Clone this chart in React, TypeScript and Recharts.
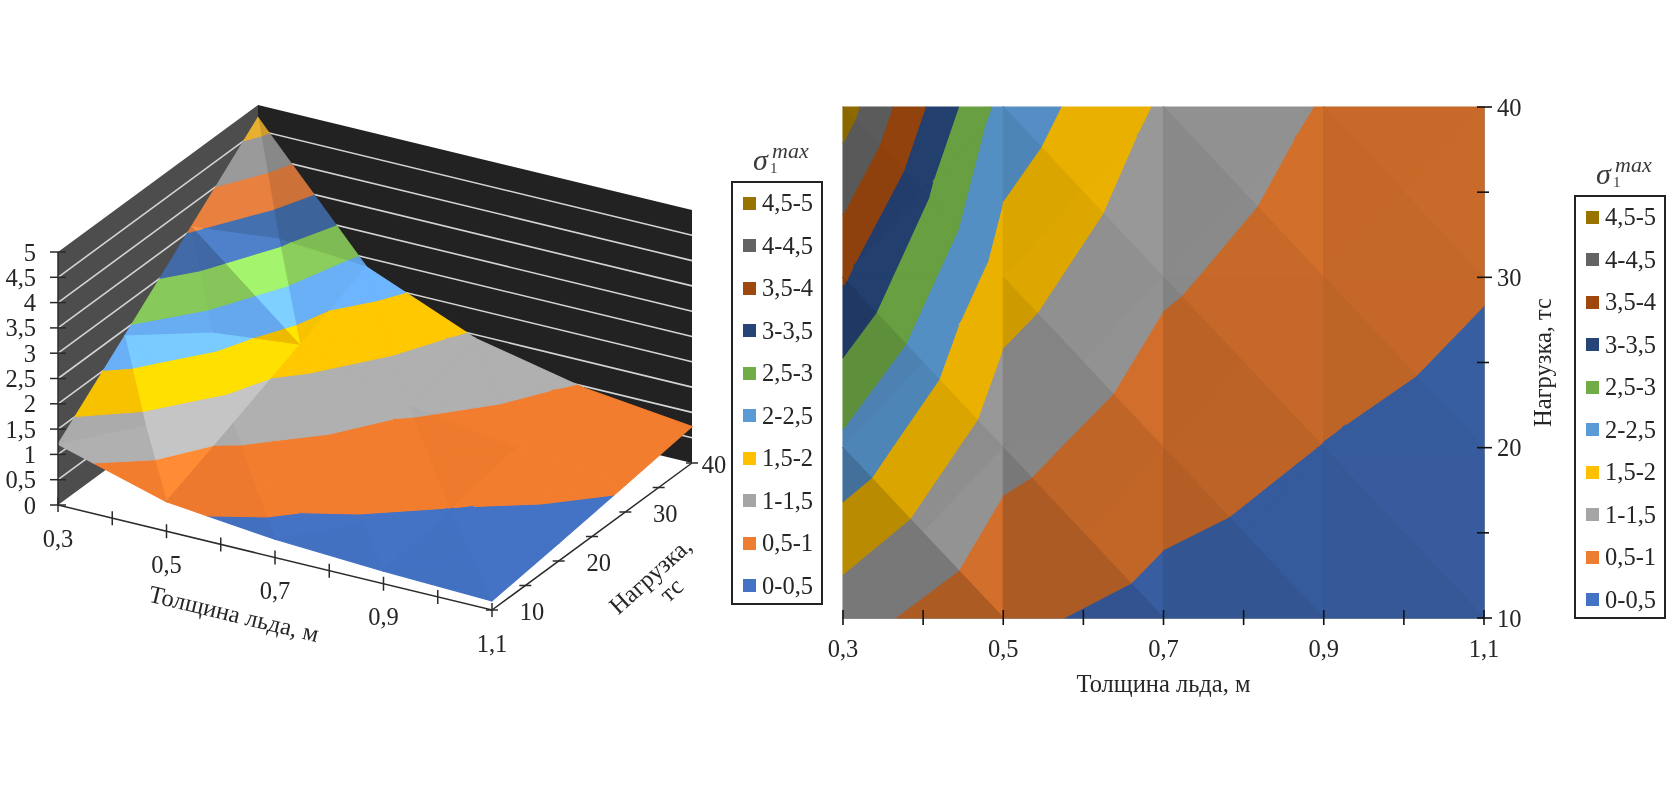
import React from "react";
import { ScatterChart, Scatter, XAxis, YAxis } from "recharts";

const thickness = [0.3, 0.5, 0.7, 0.9, 1.1];
const loads = [10, 20, 30, 40];
const sigmaAt10 = [1.2, 0.585, 0.36, 0.25, 0.18];
const sigmaAt20 = [2.37, 1.16, 0.71, 0.49, 0.35];
const sigmaAt30 = [3.56, 1.74, 1.07, 0.74, 0.53];
const sigmaAt40 = [4.75, 2.32, 1.43, 0.97, 0.72];
const sigmaRows = [sigmaAt10, sigmaAt20, sigmaAt30, sigmaAt40];

const bandEdges = [0, 0.5, 1, 1.5, 2, 2.5, 3, 3.5, 4, 4.5, 5];
const bandNames = ["0-0,5", "0,5-1", "1-1,5", "1,5-2", "2-2,5", "2,5-3", "3-3,5", "3,5-4", "4-4,5", "4,5-5"];
const legendColors = ["#4472C4", "#ED7D31", "#A5A5A5", "#FFC000", "#5B9BD5", "#70AD47", "#264478", "#9E480E", "#636363", "#997300"];
const surfaceColors = ["#4472C4", "#F37D2E", "#B0B0B0", "#FFC800", "#6DB5FF", "#8FD460", "#4570B0", "#E8803F", "#9A9A9A", "#E8B030"];

const zTicks = [0, 0.5, 1, 1.5, 2, 2.5, 3, 3.5, 4, 4.5, 5];
const thicknessTicks = [0.3, 0.4, 0.5, 0.6, 0.7, 0.8, 0.9, 1.0, 1.1];
const loadTicks = [10, 15, 20, 25, 30, 35, 40];

// tint of the 3d facets [top, left, right, bottom], per load row and thickness column
const surfaceTint = [
  [[1.12, 0.97, 1.12, 1], [1, 0.97, 1, 0.97], [1, 1, 1, 0.99], [1, 0.99, 1, 0.99]],
  [[0.93, 0.95, 1.12, 1.12], [1, 1, 1, 1], [0.98, 1, 0.98, 1], [1, 1, 1, 1]],
  [[0.88, 1, 0.97, 1.15], [1, 1, 1, 1], [1, 1, 1, 1], [1, 1, 1, 1]],
];

const FONT = "'Liberation Serif', serif";
const FONT_SIZE = 24.5;
const INK = "#262626";
const decimal = (v: number, d = 1) => v.toFixed(d).replace(".", ",");
const zLabel = (v: number) => (Number.isInteger(v) ? String(v) : decimal(v));

const shade = (hex: string, f: number) => {
  const n = parseInt(hex.slice(1), 16);
  const c = [n >> 16, (n >> 8) & 255, n & 255].map((x) => Math.min(255, Math.round(x * f)));
  return `rgb(${c[0]},${c[1]},${c[2]})`;
};

type V = { t: number; l: number; z: number };

// cuts a facet down to the part that lies within a colour band
const clipBand = (poly: V[], lo: number, hi: number) => {
  const cut = (pts: V[], level: number, keepAbove: boolean) => {
    const out: V[] = [];
    pts.forEach((a, i) => {
      const b = pts[(i + 1) % pts.length];
      const aIn = keepAbove ? a.z >= level : a.z <= level;
      const bIn = keepAbove ? b.z >= level : b.z <= level;
      if (aIn) out.push(a);
      if (aIn !== bIn) {
        const k = (level - a.z) / (b.z - a.z);
        out.push({ t: a.t + (b.t - a.t) * k, l: a.l + (b.l - a.l) * k, z: level });
      }
    });
    return out;
  };
  return cut(cut(poly, lo, true), hi, false);
};

// four facets per grid cell, far ones first
const buildFacets = () => {
  const list: { pts: V[]; row: number; col: number; side: number }[] = [];
  for (let r = loads.length - 2; r >= 0; r--) {
    for (let c = 0; c < thickness.length - 1; c++) {
      const a = { t: thickness[c], l: loads[r], z: sigmaRows[r][c] };
      const b = { t: thickness[c + 1], l: loads[r], z: sigmaRows[r][c + 1] };
      const e = { t: thickness[c + 1], l: loads[r + 1], z: sigmaRows[r + 1][c + 1] };
      const d = { t: thickness[c], l: loads[r + 1], z: sigmaRows[r + 1][c] };
      const m = { t: (a.t + b.t) / 2, l: (a.l + d.l) / 2, z: (a.z + b.z + e.z + d.z) / 4 };
      [[d, e, m], [a, d, m], [b, e, m], [a, b, m]].forEach((pts, side) => list.push({ pts, row: r, col: c, side }));
    }
  }
  return list;
};
const facets = buildFacets();

// brightness of a facet in the flat (top down) chart
const flatLight = ([p, q, s]: V[]) => {
  const u = (v: V) => (v.t - 0.3) / 0.8;
  const w = (v: V) => (v.l - 10) / 30;
  const det = (u(q) - u(p)) * (w(s) - w(p)) - (u(s) - u(p)) * (w(q) - w(p));
  const zu = ((q.z - p.z) * (w(s) - w(p)) - (s.z - p.z) * (w(q) - w(p))) / det;
  const zw = ((s.z - p.z) * (u(q) - u(p)) - (q.z - p.z) * (u(s) - u(p))) / det;
  const nu = -zu * 0.3;
  const nw = -zw * 0.3;
  return Math.min(0.92, 0.72 + (0.37 * (nu + 1.3 * nw + 0.3)) / Math.sqrt(nu * nu + nw * nw + 1));
};

const h3d = (t: number, l: number) => 434 * ((t - 0.3) / 0.8) + 200 * ((l - 10) / 30);
const w3d = (t: number, l: number, z: number) => -105 * ((t - 0.3) / 0.8) + 147 * ((l - 10) / 30) + 50.6 * z;

type Row = { h: number; w: number; fill?: string; stroke?: string; sw?: number; end?: boolean };

const addPath = (rows: Row[], pts: number[][], style: Partial<Row>) => {
  pts.forEach(([h, w], i) => rows.push({ h, w, ...style, end: i === pts.length - 1 }));
};

const wallRows: Row[] = [];
addPath(wallRows, [[h3d(0.3, 10), w3d(0.3, 10, 0)], [h3d(0.3, 10), w3d(0.3, 10, 5)], [h3d(0.3, 40), w3d(0.3, 40, 5)], [h3d(0.3, 40), w3d(0.3, 40, 0)]], { fill: "#4D4D4D" });
addPath(wallRows, [[h3d(0.3, 40), w3d(0.3, 40, 0)], [h3d(0.3, 40), w3d(0.3, 40, 5)], [h3d(1.1, 40), w3d(1.1, 40, 5)], [h3d(1.1, 40), w3d(1.1, 40, 0)]], { fill: "#222222" });
zTicks.slice(1, -1).forEach((z) => {
  addPath(wallRows, [[h3d(0.3, 10), w3d(0.3, 10, z)], [h3d(0.3, 40), w3d(0.3, 40, z)], [h3d(1.1, 40), w3d(1.1, 40, z)]], { stroke: "#D4D4D4", sw: 1.6 });
});

const SEAM = 1.1;
const surfaceRows: Row[] = [];
const flatRows: { t: number; l: number; fill: string; stroke: string; sw: number; end: boolean }[] = [];
facets.forEach(({ pts, row, col, side }) => {
  const flat = flatLight(pts);
  bandNames.forEach((_, b) => {
    const part = clipBand(pts, bandEdges[b], bandEdges[b + 1]);
    if (part.length < 3) return;
    const fill3d = shade(surfaceColors[b], surfaceTint[row][col][side]);
    addPath(surfaceRows, part.map((v) => [h3d(v.t, v.l), w3d(v.t, v.l, v.z)]), { fill: fill3d, stroke: fill3d, sw: SEAM });
    const fill2d = shade(legendColors[b], flat);
    part.forEach((v, i) => flatRows.push({ t: v.t, l: v.l, fill: fill2d, stroke: fill2d, sw: SEAM, end: i === part.length - 1 }));
  });
});

const axisRows: Row[] = [];
const axisStyle = { stroke: "#2b2b2b", sw: 1.5 };
addPath(axisRows, [[h3d(0.3, 10), w3d(0.3, 10, 0)], [h3d(0.3, 10), w3d(0.3, 10, 5)]], axisStyle);
addPath(axisRows, [[h3d(0.3, 10), w3d(0.3, 10, 0)], [h3d(1.1, 10), w3d(1.1, 10, 0)], [h3d(1.1, 40), w3d(1.1, 40, 0)]], axisStyle);
zTicks.forEach((z) => addPath(axisRows, [[-8, 50.6 * z], [8, 50.6 * z]], axisStyle));
thicknessTicks.forEach((t) => {
  const w = w3d(t, 10, 0);
  addPath(axisRows, [[h3d(t, 10), w - 7], [h3d(t, 10), w + 7]], axisStyle);
});
loadTicks.forEach((l) => {
  const w = w3d(1.1, l, 0);
  addPath(axisRows, [[h3d(1.1, l) - 6, w], [h3d(1.1, l) + 6, w]], axisStyle);
});

type Lab = { h?: number; w?: number; t?: number; l?: number; text: string; dx?: number; dy?: number; rot?: number; anchor?: string };

const labelRows3d: Lab[] = [
  ...zTicks.map((z) => ({ h: 0, w: 50.6 * z, text: zLabel(z), dx: -22, anchor: "end" })),
  ...thickness.map((t) => ({ h: h3d(t, 10), w: w3d(t, 10, 0), text: decimal(t), dy: 33 })),
  ...loads.map((l) => ({ h: h3d(1.1, l), w: w3d(1.1, l, 0), text: String(l), dx: l === 40 ? 22 : 40, dy: 1 })),
  { h: h3d(0.7, 10), w: w3d(0.7, 10, 0), text: "Толщина льда, м", dx: -41, dy: 56, rot: 13.6 },
  { h: h3d(1.1, 25), w: w3d(1.1, 25, 0), text: "Нагрузка,", dx: 58, dy: 39, rot: -42 },
  { h: h3d(1.1, 25), w: w3d(1.1, 25, 0), text: "тс", dx: 79, dy: 53, rot: -42 },
];

const labelRowsFlat: Lab[] = [
  { t: 0.7, l: 10, text: "Толщина льда, м", dy: 65 },
  { t: 1.1, l: 25, text: "Нагрузка, тс", dx: 58, rot: -90 },
];

const pathShape = () => {
  let buf: string[] = [];
  return (p: any) => {
    buf.push(`${p.cx},${p.cy}`);
    if (!p.payload.end) return <g />;
    const points = buf.join(" ");
    buf = [];
    const { fill, stroke, sw } = p.payload;
    return fill ? (
      <polygon points={points} fill={fill} stroke={stroke ?? "none"} strokeWidth={sw ?? 0} strokeLinejoin="round" />
    ) : (
      <polyline points={points} fill="none" stroke={stroke} strokeWidth={sw} />
    );
  };
};

const textShape = (p: any) => {
  const { text, dx = 0, dy = 0, rot = 0, anchor = "middle" } = p.payload;
  const x = p.cx + dx;
  const y = p.cy + dy;
  return (
    <text x={x} y={y} fontFamily={FONT} fontSize={FONT_SIZE} fill={INK} textAnchor={anchor} dominantBaseline="central" transform={rot ? `rotate(${rot} ${x} ${y})` : undefined}>
      {text}
    </text>
  );
};

const XTick = (p: any) => {
  const v = p.payload.value;
  const major = thickness.includes(v);
  return (
    <g>
      <line x1={p.x} x2={p.x} y1={p.y - 8} y2={p.y + 7} stroke="#111" strokeWidth={1.6} />
      {major && (
        <text x={p.x} y={p.y + 30} fontFamily={FONT} fontSize={FONT_SIZE} fill={INK} textAnchor="middle" dominantBaseline="central">
          {decimal(v)}
        </text>
      )}
    </g>
  );
};

const YTick = (p: any) => {
  const v = p.payload.value;
  const major = loads.includes(v);
  return (
    <g>
      <line x1={p.x - 7} x2={p.x + (major ? 8 : 5)} y1={p.y} y2={p.y} stroke="#111" strokeWidth={1.6} />
      {major && (
        <text x={p.x + 13} y={p.y} fontFamily={FONT} fontSize={FONT_SIZE} fill={INK} dominantBaseline="central">
          {v}
        </text>
      )}
    </g>
  );
};

const BandLegend = ({ left, top }: { left: number; top: number }) => (
  <div style={{ position: "absolute", left, top: top - 42, width: 92, fontFamily: FONT, color: "#3a3a3a" }}>
    <div style={{ position: "absolute", left: 22, top: 0, height: 42, width: 80, fontStyle: "italic", lineHeight: 1 }}>
      <span style={{ position: "absolute", left: 0, top: 6, fontSize: 30 }}>σ</span>
      <span style={{ position: "absolute", left: 17, top: 22, fontSize: 15, fontStyle: "normal" }}>1</span>
      <span style={{ position: "absolute", left: 19, top: 1, fontSize: 22 }}>max</span>
    </div>
    <div style={{ position: "absolute", left: 0, top: 42, width: 92, height: 424, boxSizing: "border-box", border: "2px solid #222", background: "#fff", color: INK }}>
      {bandNames.map((_, i) => {
        const b = bandNames.length - 1 - i;
        return (
          <div key={b} style={{ position: "absolute", left: 10, top: 20 + 42.5 * i - 14, height: 28, display: "flex", alignItems: "center", fontSize: FONT_SIZE, whiteSpace: "nowrap" }}>
            <span style={{ width: 13, height: 13, background: legendColors[b], marginRight: 6, display: "inline-block" }} />
            {bandNames[b]}
          </div>
        );
      })}
    </div>
  </div>
);

const wallShape = pathShape();
const surfaceShape = pathShape();
const axisShape = pathShape();
const flatShape = pathShape();

export default function App() {
  return (
    <div style={{ position: "absolute", left: 0, top: 0, width: 1670, height: 799, overflow: "hidden", background: "#fff", filter: "blur(0.6px)" }}>
      <div style={{ position: "absolute", left: 0, top: 0 }}>
        <ScatterChart width={760} height={700} margin={{ top: 0, right: 0, bottom: 0, left: 0 }}>
          <XAxis type="number" dataKey="h" domain={[-58, 702]} hide />
          <YAxis type="number" dataKey="w" domain={[-195, 505]} hide />
          <Scatter data={wallRows} shape={wallShape} isAnimationActive={false} />
          <Scatter data={surfaceRows} shape={surfaceShape} isAnimationActive={false} />
          <Scatter data={axisRows} shape={axisShape} isAnimationActive={false} />
          <Scatter data={labelRows3d} shape={textShape} isAnimationActive={false} />
        </ScatterChart>
      </div>
      <div style={{ position: "absolute", left: 800, top: 80 }}>
        <ScatterChart width={800} height={640} margin={{ top: 27, right: 46, bottom: 22, left: 43 }}>
          <XAxis type="number" dataKey="t" domain={[0.3, 1.1]} ticks={thicknessTicks} interval={0} height={80} tick={XTick} tickLine={false} tickSize={0} tickMargin={0} axisLine={{ stroke: "#6b6b6b", strokeWidth: 1.5 }} />
          <YAxis type="number" dataKey="l" orientation="right" domain={[10, 40]} ticks={loadTicks} interval={0} width={70} tick={YTick} tickLine={false} tickSize={0} tickMargin={0} axisLine={{ stroke: "#7a7a7a", strokeWidth: 1.5 }} />
          <Scatter data={flatRows} shape={flatShape} isAnimationActive={false} />
          <Scatter data={labelRowsFlat} shape={textShape} isAnimationActive={false} />
        </ScatterChart>
      </div>
      <BandLegend left={731} top={181} />
      <BandLegend left={1574} top={195} />
    </div>
  );
}
